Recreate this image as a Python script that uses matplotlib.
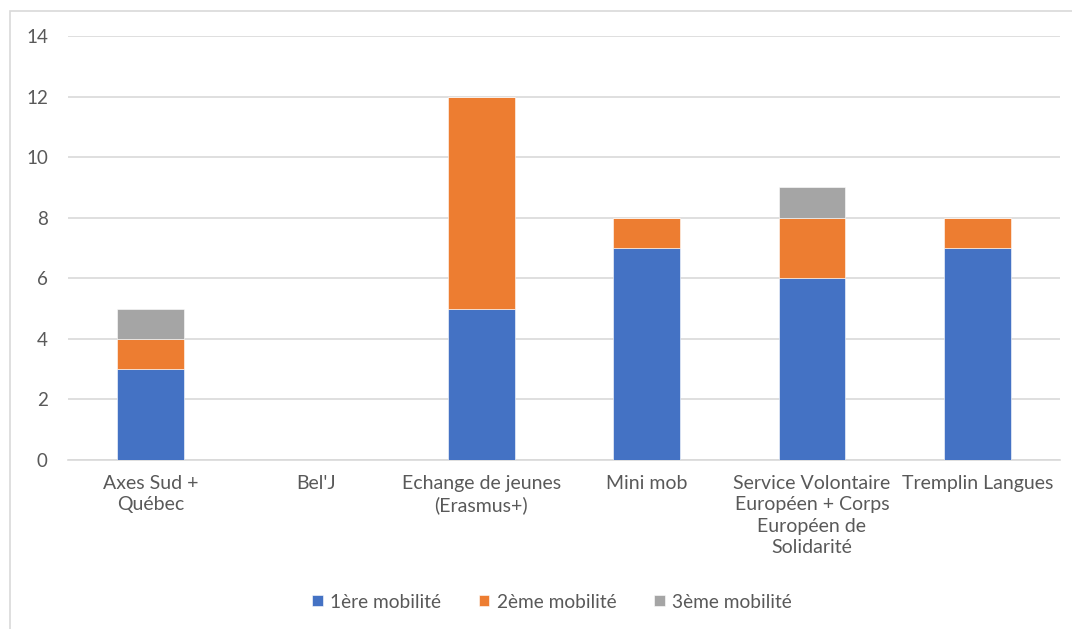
import numpy as np
import matplotlib.pyplot as plt
from matplotlib.patches import Rectangle

plt.rcParams['font.family'] = ['Lato', 'DejaVu Sans']

categories = ['Axes Sud +\nQuébec', "Bel'J", 'Echange de jeunes\n(Erasmus+)', 'Mini mob',
              'Service Volontaire\nEuropéen + Corps\nEuropéen de\nSolidarité', 'Tremplin Langues']
mob1 = [3, 0, 5, 7, 6, 7]
mob2 = [1, 0, 7, 1, 2, 1]
mob3 = [1, 0, 0, 0, 1, 0]
series_names = ['1ère mobilité', '2ème mobilité', '3ème mobilité']
colors = ['#4472C4', '#ED7D31', '#A5A5A5']

fig = plt.figure(figsize=(10.72, 6.29), dpi=100)
ax = fig.add_axes([0.0634, 0.2687, 0.9254, 0.6741])

# light frame around the chart area
fig.patches.append(Rectangle((10 / 1072, -0.1), 1.2, 1 - 11 / 629 + 0.1,
                             transform=fig.transFigure, fill=False,
                             edgecolor='#d9d9d9', linewidth=1.2))

X = np.arange(len(categories))
w = 0.405
bottom = np.zeros(len(categories))
bars = []
for vals, c in zip([mob1, mob2, mob3], colors):
    b = ax.bar(X, vals, width=w, bottom=bottom, color=c, edgecolor='white',
               linewidth=0.4, zorder=3)
    bars.append(b)
    bottom += np.array(vals)

ax.set_xlim(-0.5, len(categories) - 0.5)
ax.set_ylim(0, 14)
ax.set_yticks(range(0, 15, 2))
ax.set_xticks(X)
ax.set_xticklabels(categories, fontsize=14, color='#595959', linespacing=1.3)
ax.tick_params(axis='y', labelsize=13.5, labelcolor='#595959', length=0, pad=14.5)
ax.tick_params(axis='x', length=0, pad=11)
ax.yaxis.grid(True, color='#d9d9d9', linewidth=1.2, zorder=0)
for s in ['top', 'right', 'left']:
    ax.spines[s].set_visible(False)
ax.spines['bottom'].set_color('#d9d9d9')
ax.spines['bottom'].set_linewidth(1.2)

fig.legend([b[0] for b in bars], series_names, loc='center', bbox_to_anchor=(0.515, 1 - 602 / 629),
           ncol=3, frameon=False, fontsize=13.8, labelcolor='#595959',
           handlelength=0.55, handleheight=0.55, handletextpad=0.4, columnspacing=1.95)

fig.savefig('out.png', dpi=100)
